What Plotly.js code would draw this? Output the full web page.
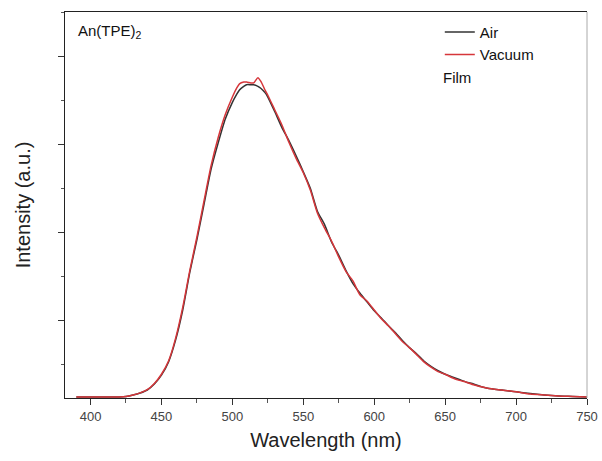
<!DOCTYPE html>
<html>
<head>
<meta charset="utf-8">
<script src="https://cdn.plot.ly/plotly-3.0.1.min.js"></script>
<style>html,body{margin:0;padding:0;background:#fff}#chart{width:602px;height:461px}</style>
</head>
<body>
<div id="chart"></div>
<script>
const wavelength = [390,400,410,420,425,430,435,440,445,450,455,460,465,470,475,480,485,490,495,500,503,505,508,510,513,515,518,520,523,525,530,535,540,545,550,555,560,565,570,575,580,585,590,595,600,605,610,615,620,625,630,635,640,645,650,655,660,665,670,675,680,690,700,710,720,730,740,750];
const airIntensity = [0.011,0.011,0.011,0.012,0.017,0.034,0.057,0.091,0.16,0.26,0.41,0.66,1.0,1.43,1.80,2.20,2.60,2.90,3.17,3.36,3.45,3.50,3.54,3.56,3.56,3.56,3.54,3.52,3.47,3.42,3.25,3.07,2.92,2.75,2.57,2.38,2.12,1.97,1.77,1.62,1.45,1.30,1.19,1.09,0.99,0.91,0.82,0.74,0.65,0.57,0.50,0.42,0.36,0.31,0.27,0.24,0.21,0.18,0.16,0.13,0.11,0.09,0.07,0.05,0.034,0.023,0.018,0.012];
const vacuumIntensity = [0.011,0.011,0.011,0.012,0.018,0.035,0.058,0.094,0.165,0.27,0.42,0.68,1.03,1.45,1.83,2.24,2.64,2.96,3.22,3.42,3.52,3.57,3.59,3.59,3.58,3.58,3.64,3.60,3.50,3.44,3.27,3.10,2.90,2.72,2.56,2.36,2.10,1.93,1.78,1.60,1.44,1.33,1.17,1.10,1.00,0.90,0.82,0.73,0.64,0.57,0.49,0.41,0.35,0.30,0.27,0.23,0.20,0.18,0.15,0.13,0.11,0.09,0.07,0.045,0.034,0.023,0.017,0.011];
const xTicks = [400,450,500,550,600,650,700,750];

const traces = [
  {x: wavelength, y: airIntensity, name: 'Air', type: 'scatter', mode: 'lines',
   line: {color: '#333333', width: 1.5, shape: 'spline', smoothing: 0.6}},
  {x: wavelength, y: vacuumIntensity, name: 'Vacuum', type: 'scatter', mode: 'lines',
   line: {color: '#d6363a', width: 1.5, shape: 'spline', smoothing: 0.6}}
];

const layout = {
  width: 602, height: 461,
  margin: {l: 65, r: 15, t: 12, b: 63},
  paper_bgcolor: '#fff', plot_bgcolor: '#fff',
  font: {family: 'Liberation Sans, Arial, sans-serif', color: '#222'},
  showlegend: true,
  legend: {x: 0.718, xanchor: 'left', y: 0.99, yanchor: 'top', bgcolor: 'rgba(0,0,0,0)',
           font: {size: 15, color: '#111'}, tracegroupgap: 0, itemwidth: 30},
  xaxis: {
    range: [382, 750], tickvals: xTicks, ticktext: xTicks.map(String),
    ticks: 'outside', ticklen: 6, tickcolor: '#333', tickwidth: 1,
    minor: {dtick: 25, tick0: 375, ticks: 'outside', ticklen: 4, tickcolor: '#555'},
    showline: true, linecolor: '#222', linewidth: 1.2, mirror: true,
    showgrid: false, zeroline: false,
    tickfont: {size: 13, color: '#444'},
    title: {text: 'Wavelength (nm)', font: {size: 20, color: '#222'}, standoff: 10}
  },
  yaxis: {
    range: [0, 4.386], tick0: 0.886, dtick: 1, showticklabels: false,
    ticks: 'outside', ticklen: 6, tickcolor: '#333', tickwidth: 1,
    minor: {dtick: 0.5, tick0: 0.386, ticks: 'outside', ticklen: 3, tickcolor: '#555'},
    showline: true, linecolor: '#222', linewidth: 1.2,
    showgrid: false, zeroline: false,
    title: {text: 'Intensity (a.u.)', font: {size: 20, color: '#222'}, standoff: 21}
  },
  shapes: [
    {type: 'line', xref: 'paper', yref: 'paper', x0: 1, x1: 1, y0: 0, y1: 1,
     line: {color: '#aaaaaa', width: 1}}
  ],
  annotations: [
    {text: 'An(TPE)<sub>2</sub>', xref: 'paper', yref: 'paper', x: 0.022, y: 0.95,
     xanchor: 'left', yanchor: 'middle', showarrow: false, font: {size: 15, color: '#111'}},
    {text: 'Film', xref: 'paper', yref: 'paper', x: 0.72, y: 0.83,
     xanchor: 'left', yanchor: 'middle', showarrow: false, font: {size: 15, color: '#111'}}
  ]
};

Plotly.newPlot('chart', traces, layout, {displayModeBar: false, staticPlot: true});
</script>
</body>
</html>
